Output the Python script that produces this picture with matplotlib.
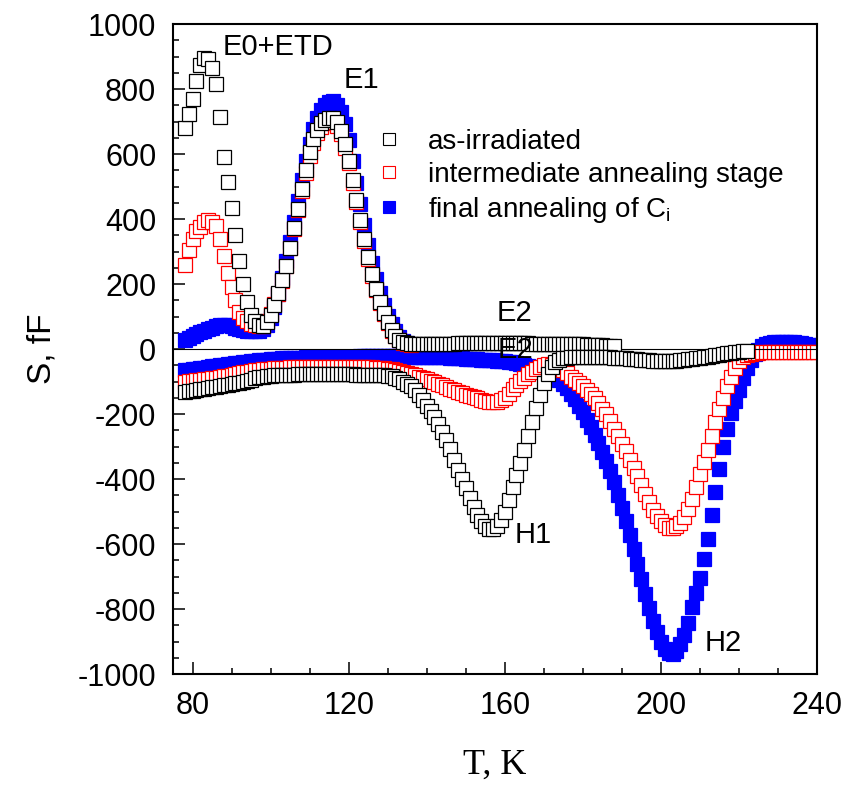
import matplotlib
matplotlib.use("Agg")
import matplotlib.pyplot as plt
from matplotlib.ticker import MultipleLocator

plt.rcParams["font.family"] = ["Liberation Sans", "DejaVu Sans"]
plt.rcParams["axes.unicode_minus"] = False

# temperature grid of the spectra, K (1 K steps); each branch starts at 78 K
temps = [78, 79, 80, 81, 82, 83, 84, 85, 86, 87, 88, 89, 90, 91, 92, 93, 94, 95, 96, 97,
         98, 99, 100, 101, 102, 103, 104, 105, 106, 107, 108, 109, 110, 111, 112, 113,
         114, 115, 116, 117, 118, 119, 120, 121, 122, 123, 124, 125, 126, 127, 128, 129,
         130, 131, 132, 133, 134, 135, 136, 137, 138, 139, 140, 141, 142, 143, 144, 145,
         146, 147, 148, 149, 150, 151, 152, 153, 154, 155, 156, 157, 158, 159, 160, 161,
         162, 163, 164, 165, 166, 167, 168, 169, 170, 171, 172, 173, 174, 175, 176, 177,
         178, 179, 180, 181, 182, 183, 184, 185, 186, 187, 188, 189, 190, 191, 192, 193,
         194, 195, 196, 197, 198, 199, 200, 201, 202, 203, 204, 205, 206, 207, 208, 209,
         210, 211, 212, 213, 214, 215, 216, 217, 218, 219, 220, 221, 222, 223, 224, 225,
         226, 227, 228, 229, 230, 231, 232, 233, 234, 235, 236, 237, 238, 239, 240]

# as-irradiated: positive branch 78..188 K, negative branch 78..222 K
black_pos = [680, 722, 770, 825, 875, 894, 892, 866, 815, 715,
             590, 515, 435, 352, 272, 200, 145, 105, 85, 73,
             70, 82, 105, 135, 172, 212, 255, 312, 372, 432,
             492, 550, 605, 645, 675, 695, 706, 712, 712, 698,
             672, 630, 580, 520, 458, 398, 338, 282, 230, 185,
             145, 110, 82, 58, 40, 29, 22, 19, 17, 16,
             15, 15, 15, 15, 16, 16, 16, 17, 17, 17,
             18, 18, 18, 19, 19, 19, 20, 20, 20, 20,
             20, 20, 20, 20, 19, 19, 18, 18, 18, 17,
             17, 17, 17, 16, 16, 16, 16, 15, 15, 15,
             14, 14, 14, 13, 13, 12, 12, 11, 10, 9,
             8]
black_neg = [-132, -130, -128, -126, -124, -122, -120, -118, -116, -114,
             -112, -110, -108, -106, -103, -100, -97, -94, -90, -87,
             -85, -83, -82, -81, -80, -80, -79, -79, -79, -78,
             -78, -78, -78, -78, -78, -78, -78, -78, -78, -78,
             -78, -78, -78, -78, -79, -79, -79, -79, -79, -80,
             -80, -81, -82, -84, -88, -93, -100, -107, -115, -127,
             -142, -157, -174, -191, -210, -231, -254, -280, -308, -340,
             -372, -400, -428, -458, -486, -510, -530, -545, -553, -555,
             -545, -527, -500, -465, -424, -388, -350, -310, -268, -224,
             -180, -140, -105, -77, -55, -41, -33, -29, -27, -26,
             -25, -24, -24, -24, -24, -24, -25, -25, -26, -26,
             -27, -27, -28, -29, -30, -31, -32, -33, -34, -35,
             -36, -36, -37, -37, -37, -37, -36, -35, -34, -32,
             -31, -29, -27, -25, -23, -21, -19, -17, -15, -13,
             -11, -9, -8, -6, -5]

# intermediate annealing stage: positive 78..136 K, negative 78..240 K
red_pos = [260, 305, 340, 362, 377, 390, 396, 392, 380, 340,
           285, 235, 190, 150, 115, 95, 85, 78, 74, 72,
           72, 85, 108, 138, 170, 210, 255, 310, 368, 428,
           485, 542, 595, 635, 665, 684, 695, 700, 700, 686,
           662, 620, 572, 512, 452, 392, 333, 277, 226, 181,
           142, 108, 80, 57, 40, 29, 20, 15, 12]
red_neg = [-100, -98, -97, -95, -94, -92, -91, -89, -88, -86,
           -84, -82, -80, -77, -75, -72, -70, -68, -66, -64,
           -62, -61, -60, -59, -58, -57, -57, -56, -56, -56,
           -56, -55, -55, -55, -55, -55, -55, -55, -55, -55,
           -55, -55, -55, -55, -55, -55, -56, -56, -56, -57,
           -57, -58, -60, -62, -64, -67, -70, -73, -77, -81,
           -85, -89, -93, -97, -102, -107, -112, -117, -122, -127,
           -131, -136, -140, -144, -148, -152, -156, -159, -162, -163,
           -162, -158, -150, -138, -124, -111, -99, -88, -78, -70,
           -62, -54, -48, -46, -48, -52, -58, -66, -75, -85,
           -95, -104, -114, -126, -138, -152, -167, -183, -200, -222,
           -245, -268, -291, -315, -340, -366, -392, -419, -445, -471,
           -496, -515, -530, -542, -550, -551, -545, -534, -518, -493,
           -462, -425, -383, -348, -310, -268, -225, -186, -150, -115,
           -85, -58, -36, -25, -18, -14, -12, -11, -10, -9,
           -9, -9, -8, -8, -8, -8, -8, -8, -8, -8,
           -8, -8, -8]

# final annealing of Ci: positive 78..136 K, negative 78..240 K
blue_pos = [28, 34, 40, 46, 52, 57, 62, 66, 70, 73,
            74, 73, 70, 66, 62, 59, 57, 56, 55, 57,
            62, 75, 95, 128, 170, 218, 270, 330, 392, 456,
            520, 578, 632, 676, 712, 736, 752, 760, 762, 752,
            730, 692, 642, 580, 512, 446, 382, 320, 264, 215,
            172, 134, 102, 76, 54, 38, 26, 18, 12]
blue_neg = [-65, -63, -62, -60, -58, -57, -55, -53, -52, -50,
            -48, -46, -45, -43, -42, -40, -39, -37, -36, -35,
            -34, -33, -32, -31, -30, -29, -29, -28, -28, -27,
            -27, -26, -26, -25, -25, -25, -25, -24, -24, -24,
            -24, -23, -23, -23, -23, -22, -22, -22, -22, -22,
            -22, -22, -22, -22, -22, -22, -22, -22, -23, -23,
            -23, -23, -24, -24, -25, -25, -26, -26, -27, -28,
            -29, -29, -30, -31, -32, -32, -33, -34, -35, -35,
            -36, -37, -38, -39, -41, -43, -45, -48, -51, -54,
            -58, -62, -66, -71, -78, -86, -96, -107, -120, -137,
            -155, -175, -195, -217, -240, -264, -290, -317, -345, -376,
            -410, -448, -490, -530, -572, -615, -660, -708, -755, -798,
            -838, -872, -900, -922, -935, -938, -928, -908, -880, -842,
            -795, -750, -703, -645, -585, -512, -440, -368, -300, -245,
            -198, -160, -125, -90, -58, -33, -14, -2, 8, 14,
            18, 21, 23, 23, 23, 23, 22, 20, 18, 16,
            13, 11, 8]

labels = ["as-irradiated", "intermediate annealing stage",
          "final annealing of C$_\\mathregular{i}$"]

peak_names = ["E0+ETD", "E1", "E2", "E2", "H1", "H2"]
peak_T = [87.8, 118.6, 158.0, 158.3, 162.6, 211.3]
peak_S = [930, 829, 111, -3, -573, -906]


def main():
    fig = plt.figure(figsize=(8.56, 7.99), dpi=100)
    ax = fig.add_axes([0.2021, 0.1564, 0.7523, 0.8135])

    ms = 9.4
    mew = 0.9
    blue_kw = dict(ls="none", marker="s", ms=ms, mfc="#0000ff", mec="#0000ff", mew=mew, zorder=2)
    red_kw = dict(ls="none", marker="s", ms=ms, mfc="white", mec="#ff0000", mew=mew, zorder=2.1)
    black_kw = dict(ls="none", marker="s", ms=ms, mfc="white", mec="black", mew=mew, zorder=2.3)

    ax.plot(temps[:len(blue_neg)], blue_neg, **blue_kw)
    ax.plot(temps[:len(blue_pos)], blue_pos, **blue_kw)
    ax.plot(temps[:len(red_neg)], red_neg, **red_kw)
    ax.plot(temps[:len(red_pos)], red_pos, **red_kw)
    ax.axhline(0, color="black", lw=0.8, zorder=2.2)
    ax.plot(temps[:len(black_pos)], black_pos, **black_kw)
    ax.plot(temps[:len(black_neg)], black_neg, **black_kw)

    # legend handles
    hb, = ax.plot([], [], ls="none", marker="s", ms=8.4, mfc="white", mec="black", mew=0.8)
    hr, = ax.plot([], [], ls="none", marker="s", ms=8.4, mfc="white", mec="#ff0000", mew=0.8)
    hu, = ax.plot([], [], ls="none", marker="s", ms=8.4, mfc="#0000ff", mec="#0000ff", mew=0.8)
    ax.legend([hb, hr, hu], labels, loc="upper left", bbox_to_anchor=(0.314, 0.839),
              frameon=False, fontsize=20, handlelength=1.0, handletextpad=0.9,
              labelspacing=0.25, borderpad=0, borderaxespad=0)

    for name, t, s in zip(peak_names, peak_T, peak_S):
        ax.text(t, s, name, fontsize=21, ha="left", va="center", zorder=5)

    ax.set_xlim(75, 240)
    ax.set_ylim(-1000, 1000)
    ax.xaxis.set_major_locator(MultipleLocator(40))
    ax.xaxis.set_minor_locator(MultipleLocator(10))
    ax.yaxis.set_major_locator(MultipleLocator(200))
    ax.yaxis.set_minor_locator(MultipleLocator(50))
    ax.tick_params(which="both", direction="in", top=False, right=False, width=1.1)
    ax.tick_params(which="major", length=8.5, labelsize=22)
    ax.tick_params(which="minor", length=4.3)
    ax.tick_params(axis="x", pad=12)
    ax.tick_params(axis="y", pad=12)
    for sp in ax.spines.values():
        sp.set_linewidth(1.5)

    ax.set_xlabel("T, K", family=["Liberation Serif", "DejaVu Serif"], fontsize=26)
    ax.xaxis.set_label_coords(0.5, -0.115)
    ax.set_ylabel("S, fF", fontsize=24)
    ax.yaxis.set_label_coords(-0.18, 0.5)

    fig.savefig("out.png", dpi=100)


if __name__ == "__main__":
    main()
